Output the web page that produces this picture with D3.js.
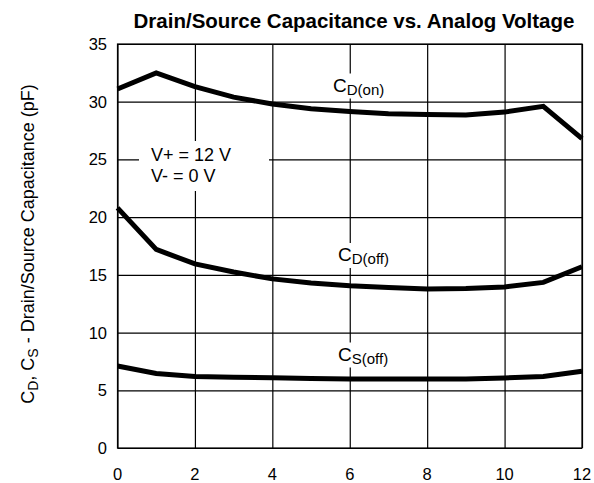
<!DOCTYPE html>
<html>
<head>
<meta charset="utf-8">
<script src="https://cdn.jsdelivr.net/npm/d3@7"></script>
<style>
  body { margin: 0; background: #fff; }
  text { font-family: "Liberation Sans", Arial, sans-serif; fill: #000; }
</style>
</head>
<body>
<div id="chart"></div>
<script>
// data
var voltage = [0, 1, 2, 3, 4, 5, 6, 7, 8, 9, 10, 11, 12];
var cdOn  = [31.1, 32.5, 31.3, 30.4, 29.8, 29.4, 29.15, 28.95, 28.9, 28.85, 29.1, 29.6, 26.8];
var cdOff = [20.8, 17.2, 15.95, 15.25, 14.65, 14.3, 14.05, 13.9, 13.78, 13.82, 13.95, 14.35, 15.7];
var csOff = [7.1, 6.45, 6.2, 6.12, 6.08, 6.03, 5.98, 5.97, 5.97, 5.97, 6.07, 6.2, 6.65];
var xTicks = [0, 2, 4, 6, 8, 10, 12];
var yTicks = [0, 5, 10, 15, 20, 25, 30, 35];

var W = 594, H = 483;
var margin = {top: 44, right: 12, bottom: 35, left: 117.5};

var svg = d3.select("#chart").append("svg")
    .attr("width", W)
    .attr("height", H);

var x = d3.scaleLinear().domain([0, 12]).range([margin.left, W - margin.right]);
var y = d3.scaleLinear().domain([0, 35]).range([H - margin.bottom, margin.top]);

// grid
svg.append("g")
    .attr("transform", "translate(0," + (H - margin.bottom) + ")")
    .call(d3.axisBottom(x).tickValues(xTicks).tickSize(-(H - margin.top - margin.bottom)).tickFormat(""))
    .call(function(g) { g.select(".domain").remove(); })
    .selectAll("line").attr("stroke", "#000").attr("stroke-width", 1.2);

svg.append("g")
    .attr("transform", "translate(" + margin.left + ",0)")
    .call(d3.axisLeft(y).tickValues(yTicks).tickSize(-(W - margin.left - margin.right)).tickFormat(""))
    .call(function(g) { g.select(".domain").remove(); })
    .selectAll("line").attr("stroke", "#000").attr("stroke-width", 1.2);

svg.append("rect")
    .attr("x", x(0)).attr("y", y(35))
    .attr("width", x(12) - x(0)).attr("height", y(0) - y(35))
    .attr("fill", "none").attr("stroke", "#000").attr("stroke-width", 1.2);

// tick labels
svg.selectAll(".xl").data(xTicks).enter().append("text")
    .attr("x", function(d) { return x(d); })
    .attr("y", 480)
    .attr("text-anchor", "middle")
    .style("font-size", "16.5px")
    .text(function(d) { return d; });

svg.selectAll(".yl").data(yTicks).enter().append("text")
    .attr("x", 107)
    .attr("y", function(d) { return y(d) + 6; })
    .attr("text-anchor", "end")
    .style("font-size", "16.5px")
    .text(function(d) { return d; });

// title
svg.append("text")
    .attr("x", 354).attr("y", 27.5)
    .attr("text-anchor", "middle")
    .style("font-size", "20.5px").style("font-weight", "bold")
    .text("Drain/Source Capacitance vs. Analog Voltage");

// y axis label
var yl = svg.append("text")
    .attr("transform", "translate(34," + 244 + ") rotate(-90)")
    .attr("text-anchor", "middle")
    .style("font-size", "18px");
yl.append("tspan").text("C");
yl.append("tspan").attr("dy", 4).style("font-size", "14px").text("D");
yl.append("tspan").attr("dy", -4).text(", C");
yl.append("tspan").attr("dy", 4).style("font-size", "14px").text("S");
yl.append("tspan").attr("dy", -4).text(" - Drain/Source Capacitance (pF)");

// curves
var line = d3.line()
    .x(function(d, i) { return x(voltage[i]); })
    .y(function(d) { return y(d); });

[cdOn, cdOff, csOff].forEach(function(s) {
  svg.append("path")
      .datum(s)
      .attr("d", line)
      .attr("fill", "none")
      .attr("stroke", "#000")
      .attr("stroke-width", 5)
      .attr("stroke-linejoin", "miter");
});

// curve labels with white background
function curveLabel(cx, base, sub) {
  var g = svg.append("g");
  var t = g.append("text")
      .attr("x", cx).attr("y", base)
      .style("font-size", "19px");
  t.append("tspan").text("C");
  t.append("tspan").attr("dy", 3).style("font-size", "15px").text(sub);
  var bb = t.node().getBBox();
  g.insert("rect", "text")
      .attr("x", bb.x - 2).attr("y", bb.y - 1)
      .attr("width", bb.width + 4).attr("height", bb.height + 2)
      .attr("fill", "#fff");
}
curveLabel(333, 91.5, "D(on)");
curveLabel(338, 261, "D(off)");
curveLabel(338, 360.5, "S(off)");

// conditions box
svg.append("rect")
    .attr("x", 139).attr("y", 141)
    .attr("width", 130).attr("height", 50)
    .attr("fill", "#fff");
svg.append("text").attr("x", 151).attr("y", 161).style("font-size", "18px").text("V+ = 12 V");
svg.append("text").attr("x", 151).attr("y", 182).style("font-size", "18px").text("V-  = 0 V");
</script>
</body>
</html>
